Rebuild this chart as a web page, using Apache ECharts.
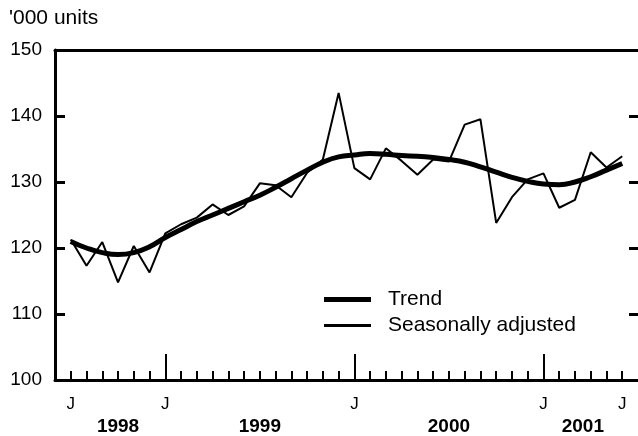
<!DOCTYPE html>
<html>
<head>
    <meta charset="utf-8">
    <title>'000 units</title>
    <script src="https://cdn.jsdelivr.net/npm/echarts@6/dist/echarts.min.js"></script>
    <style>
        html, body { margin: 0; padding: 0; background: #fff; }
    </style>
</head>
<body>
<div id="main1" style="width: 638px;height:436px;"></div>
<script type="text/javascript">
    // monthly, Jul 1998 .. Jun 2001
    var seasonallyAdjusted = [121.3, 117.3, 120.9, 114.8, 120.3, 116.3, 122.2, 123.6, 124.6, 126.6, 125.0, 126.3,
        129.8, 129.5, 127.7, 131.4, 133.4, 143.5, 132.1, 130.4, 135.1, 133.2, 131.1, 133.4,
        133.1, 138.7, 139.5, 123.8, 127.7, 130.4, 131.3, 126.1, 127.3, 134.5, 132.2, 133.9];
    var trend = [121.0, 120.0, 119.3, 119.0, 119.3, 120.2, 121.6, 122.8, 124.0, 125.0, 126.0, 127.0,
        128.0, 129.2, 130.5, 131.8, 133.0, 133.8, 134.1, 134.3, 134.2, 134.0, 133.9, 133.7,
        133.4, 133.0, 132.3, 131.5, 130.7, 130.1, 129.7, 129.6, 130.0, 130.8, 131.8, 132.8];
    var monthLabels = ['J', 'J', 'J', 'J', 'J'];
    var monthLabelPos = [0, 6, 18, 30, 35];
    var yearTickPos = [6, 18, 30];
    var yearLabels = ['1998', '1999', '2000', '2001'];
    var yearLabelPos = [3, 12, 24, 32.5];

    var monthTicks = [];
    for (var i = 0; i < seasonallyAdjusted.length; i++) monthTicks.push(i);

    function toPoints(arr) {
        return arr.map(function (v, i) { return [i, v]; });
    }

    var chartDom = document.getElementById('main1');
    var myChart = echarts.init(chartDom);
    var font = 'Liberation Sans, Arial, sans-serif';
    var legendText = { fontSize: 21, fontFamily: font, color: '#000', padding: [0, 0, 0, 12] };

    var option = {
        animation: false,
        grid: { left: 55, top: 50, width: 586, height: 331 },
        graphic: [{
            type: 'text', left: 9, top: 8,
            style: { text: "'000 units", fontSize: 21, fontFamily: font, fill: '#000' }
        }],
        // one legend per row so each key line gets its own thickness
        legend: [{
            data: [{ name: 'Trend', icon: 'rect', itemStyle: { color: '#000' } }],
            left: 319, top: 284,
            itemWidth: 47, itemHeight: 5,
            textStyle: legendText
        }, {
            data: [{ name: 'Seasonally adjusted', icon: 'rect', itemStyle: { color: '#000' } }],
            left: 319, top: 310,
            itemWidth: 47, itemHeight: 3,
            textStyle: legendText
        }],
        xAxis: [{
            type: 'value', min: -1, max: 36, position: 'bottom',
            axisLine: { show: true, onZero: false, lineStyle: { color: '#000', width: 3 } },
            axisTick: { show: true, inside: true, length: 9, customValues: monthTicks, lineStyle: { color: '#000', width: 2 } },
            axisLabel: {
                customValues: monthLabelPos, margin: 16, fontSize: 17, fontFamily: font, color: '#000',
                formatter: function (v) { return monthLabels[monthLabelPos.indexOf(v)]; }
            },
            splitLine: { show: false }
        }, {
            type: 'value', min: -1, max: 36, position: 'bottom',
            axisLine: { show: false, onZero: false },
            axisTick: { show: true, inside: true, length: 26, customValues: yearTickPos, lineStyle: { color: '#000', width: 2 } },
            axisLabel: {
                customValues: yearLabelPos, margin: 37, fontSize: 19, fontWeight: 'bold', fontFamily: font, color: '#000',
                formatter: function (v) { return yearLabels[yearLabelPos.indexOf(v)]; }
            },
            splitLine: { show: false }
        }, {
            type: 'value', min: -1, max: 36, position: 'top',
            axisLine: { show: true, onZero: false, lineStyle: { color: '#000', width: 3 } },
            axisTick: { show: false }, axisLabel: { show: false }, splitLine: { show: false }
        }],
        yAxis: [{
            type: 'value', min: 100, max: 150, interval: 10, position: 'left',
            axisLine: { show: true, onZero: false, lineStyle: { color: '#000', width: 3 } },
            axisTick: { show: true, inside: true, length: 10, lineStyle: { color: '#000', width: 3 } },
            axisLabel: { margin: 13, fontSize: 19, fontFamily: font, color: '#000' },
            splitLine: { show: false }
        }, {
            type: 'value', min: 100, max: 150, interval: 10, position: 'right',
            axisLine: { show: false, onZero: false },
            axisTick: { show: true, inside: true, length: 9, lineStyle: { color: '#000', width: 3 } },
            axisLabel: { show: false },
            splitLine: { show: false }
        }],
        series: [{
            name: 'Trend',
            type: 'line',
            data: toPoints(trend),
            smooth: true,
            symbol: 'none',
            color: '#000',
            lineStyle: { color: '#000', width: 5 }
        }, {
            name: 'Seasonally adjusted',
            type: 'line',
            data: toPoints(seasonallyAdjusted),
            symbol: 'none',
            color: '#000',
            lineStyle: { color: '#000', width: 2 }
        }]
    };

    option && myChart.setOption(option);
</script>
</body>
</html>
